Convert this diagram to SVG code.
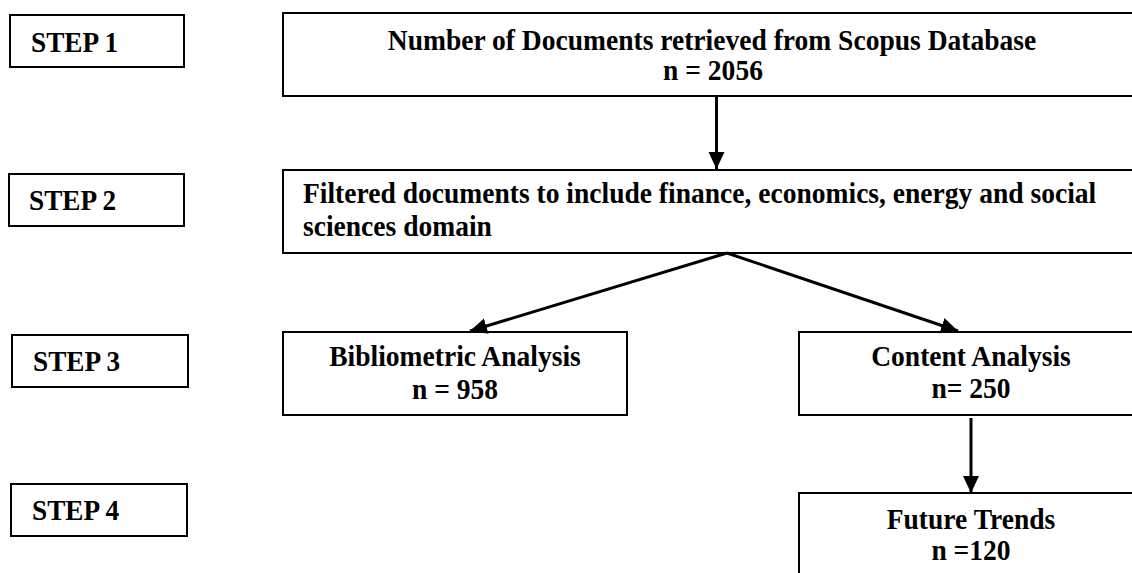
<svg xmlns="http://www.w3.org/2000/svg" width="1132" height="573" viewBox="0 0 1132 573">
<style>
  .box { fill: #ffffff; stroke: #000000; stroke-width: 2; }
  .t { font-family: "Liberation Serif", "Times New Roman", serif; font-weight: bold; font-size: 29px; fill: #000000; }
  .c { text-anchor: middle; }
  .conn { stroke: #000000; stroke-width: 3; fill: none; }
</style>
<defs>
  <marker id="arrow" markerUnits="userSpaceOnUse" markerWidth="18" markerHeight="18" viewBox="0 0 18 18" refX="17" refY="9" orient="auto">
    <path d="M0,1 L17,9 L0,17 Z" fill="#000000"/>
  </marker>
</defs>
<rect width="1132" height="573" fill="#ffffff"/>

<g id="step1">
  <rect class="box" x="10" y="15" width="174" height="52"/>
  <text class="t" transform="translate(31,52) scale(0.94,1)">STEP 1</text>
</g>
<g id="step2">
  <rect class="box" x="9" y="174" width="175" height="52"/>
  <text class="t" transform="translate(29,210) scale(0.94,1)">STEP 2</text>
</g>
<g id="step3">
  <rect class="box" x="12" y="335" width="176" height="52"/>
  <text class="t" transform="translate(33,371) scale(0.94,1)">STEP 3</text>
</g>
<g id="step4">
  <rect class="box" x="11" y="484" width="176" height="52"/>
  <text class="t" transform="translate(32,520) scale(0.94,1)">STEP 4</text>
</g>

<g id="retrieved">
  <rect class="box" x="283" y="13" width="858" height="83"/>
  <text class="t c" transform="translate(712,50) scale(0.95,1)">Number of Documents retrieved from Scopus Database</text>
  <text class="t c" transform="translate(713,80) scale(0.95,1)">n = 2056</text>
</g>
<g id="filtered">
  <rect class="box" x="283" y="170" width="858" height="83"/>
  <text class="t" transform="translate(303,203) scale(0.95,1)">Filtered documents to include finance, economics, energy and social</text>
  <text class="t" transform="translate(303,236) scale(0.95,1)">sciences domain</text>
</g>
<g id="bibliometric">
  <rect class="box" x="283" y="332" width="344" height="83"/>
  <text class="t c" transform="translate(455,366) scale(0.95,1)">Bibliometric Analysis</text>
  <text class="t c" transform="translate(455,399) scale(0.95,1)">n = 958</text>
</g>
<g id="content">
  <rect class="box" x="799" y="332" width="344" height="83"/>
  <text class="t c" transform="translate(971,366) scale(0.95,1)">Content Analysis</text>
  <text class="t c" transform="translate(971,398) scale(0.95,1)">n= 250</text>
</g>
<g id="future">
  <rect class="box" x="799" y="493" width="344" height="100"/>
  <text class="t c" transform="translate(971,529) scale(0.95,1)">Future Trends</text>
  <text class="t c" transform="translate(971,560) scale(0.95,1)">n =120</text>
</g>

<g id="connectors">
  <line class="conn" x1="716.5" y1="96" x2="716.5" y2="169" marker-end="url(#arrow)"/>
  <line class="conn" x1="727" y1="253" x2="470" y2="331" marker-end="url(#arrow)"/>
  <line class="conn" x1="727" y1="253" x2="958" y2="331" marker-end="url(#arrow)"/>
  <line class="conn" x1="971" y1="418" x2="971" y2="493" marker-end="url(#arrow)"/>
</g>
</svg>
